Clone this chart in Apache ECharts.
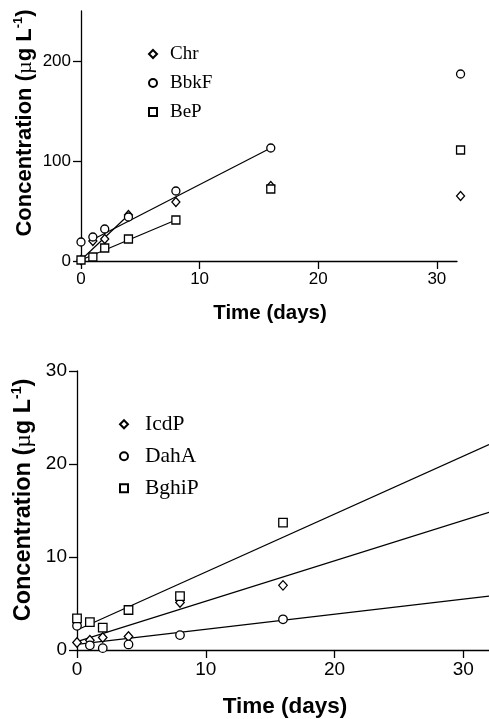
<!DOCTYPE html>
<html>
<head>
<meta charset="utf-8">
<script src="https://cdn.jsdelivr.net/npm/echarts@6/dist/echarts.min.js"></script>
<style>
  html, body { margin: 0; padding: 0; background: #fff; }
  #chart { width: 489px; height: 719px; }
</style>
</head>
<body>
<div id="chart"></div>
<script>
// upper panel: Chr, BbkF, BeP
const daysTop = [0, 1, 2, 4, 8, 16, 32];
const chrTop = [1, 20, 22, 46, 59, 75, 65];
const bbkfTop = [19, 24, 32, 44, 70, 113, 187];
const bepTop = [1, 4, 13, 22, 41, 72, 111];
// fitted lines, read as end points
const chrFit = [[0, 1], [4, 46]];
const bbkfFit = [[1, 21.5], [16, 113]];
const bepFit = [[0, 1], [8, 41]];

// lower panel: IcdP, DahA, BghiP
const daysBot = [0, 1, 2, 4, 8, 16];
const icdpBot = [0.8, 1.05, 1.35, 1.45, 5.1, 6.95];
const dahaBot = [2.6, 0.5, 0.2, 0.6, 1.6, 3.3];
const bghipBot = [3.4, 3.0, 2.4, 4.3, 5.8, 13.7];
const icdpFit = [[0, 0.9], [32, 14.8]];
const dahaFit = [[0, 0.6], [32, 5.8]];
const bghipFit = [[0, 2.15], [32, 22.1]];

const xTicksTop = [0, 10, 20, 30];
const yTicksTop = [0, 100, 200];
const xTicksBot = [0, 10, 20, 30];
const yTicksBot = [0, 10, 20, 30];

const sans = 'Liberation Sans, Arial, sans-serif';
const serif = 'Liberation Serif, Times New Roman, serif';

function pairs(xs, ys) {
    return xs.map((x, i) => [x, ys[i]]);
}

function scatter(name, sym, xs, ys, idx, size) {
    return {
        name: name,
        type: 'scatter',
        xAxisIndex: idx,
        yAxisIndex: idx,
        symbol: sym,
        symbolSize: sym === 'diamond' ? [size, size + 1] : size,
        clip: false,
        itemStyle: { color: '#fff', borderColor: '#000', borderWidth: 1.3, opacity: 1 },
        data: pairs(xs, ys),
        z: 3
    };
}

function fit(name, pts, idx) {
    return {
        name: name,
        type: 'line',
        xAxisIndex: idx,
        yAxisIndex: idx,
        showSymbol: false,
        lineStyle: { color: '#000', width: 1.2 },
        data: pts,
        z: 2
    };
}

function axisX(idx, max, ticks, fs) {
    return {
        type: 'value',
        gridIndex: idx,
        min: 0,
        max: max,
        splitLine: { show: false },
        axisLine: { lineStyle: { color: '#000', width: 1.3 } },
        axisTick: { length: 8, customValues: ticks, lineStyle: { color: '#000', width: 1.3 } },
        axisLabel: { customValues: ticks, margin: 10, color: '#000', fontFamily: sans, fontSize: fs }
    };
}

function axisY(idx, max, ticks, fs) {
    return {
        type: 'value',
        gridIndex: idx,
        min: 0,
        max: max,
        splitLine: { show: false },
        axisLine: { show: true, lineStyle: { color: '#000', width: 1.3 } },
        axisTick: { show: true, length: 8, customValues: ticks, lineStyle: { color: '#000', width: 1.3 } },
        axisLabel: { customValues: ticks, margin: 10, color: '#000', fontFamily: sans, fontSize: fs }
    };
}

function yTitle(cx, cy, fs) {
    const sup = Math.round(fs * 0.6);
    return {
        type: 'text',
        x: cx,
        y: cy,
        rotation: Math.PI / 2,
        style: {
            text: '{b|Concentration (}{m|\u00b5}{b|g L}{s|-1}{b|)}',
            align: 'center',
            verticalAlign: 'middle',
            fill: '#000',
            rich: {
                b: { fontFamily: sans, fontWeight: 'bold', fontSize: fs, fill: '#000' },
                m: { fontFamily: serif, fontSize: fs, fill: '#000' },
                s: { fontFamily: sans, fontWeight: 'bold', fontSize: sup, fill: '#000', padding: [0, 0, sup, 0] }
            }
        }
    };
}

function xTitle(cx, cy, fs) {
    return {
        type: 'text',
        x: cx,
        y: cy,
        style: {
            text: 'Time (days)',
            align: 'center',
            verticalAlign: 'middle',
            fill: '#000',
            font: 'bold ' + fs + 'px ' + sans
        }
    };
}

function legendBox(names, left, top, gap, pad, fs) {
    return {
        orient: 'vertical',
        left: left,
        top: top,
        data: names,
        itemWidth: 8,
        itemHeight: 8,
        itemGap: gap,
        selectedMode: false,
        textStyle: { fontFamily: serif, fontSize: fs, color: '#000', lineHeight: fs + 1, padding: [0, 0, 0, pad] }
    };
}

const chart = echarts.init(document.getElementById('chart'));

const option = {
    animation: false,
    backgroundColor: '#fff',
    grid: [
        { left: 81, top: 11, width: 376, height: 250 },
        { left: 77, top: 371, width: 417, height: 279 }
    ],
    xAxis: [axisX(0, 31.7, xTicksTop, 17), axisX(1, 32, xTicksBot, 19)],
    yAxis: [axisY(0, 250, yTicksTop, 17), axisY(1, 30, yTicksBot, 19)],
    legend: [
        legendBox(['Chr', 'BbkF', 'BeP'], 143, 39, 9, 8, 19),
        legendBox(['IcdP', 'DahA', 'BghiP'], 114, 408, 9.5, 12, 21.5)
    ],
    graphic: [
        yTitle(25, 123, 22),
        xTitle(270, 313, 20.5),
        yTitle(24, 500, 23.5),
        xTitle(285, 707, 22.5)
    ],
    series: [
        fit('Chr fit', chrFit, 0),
        fit('BbkF fit', bbkfFit, 0),
        fit('BeP fit', bepFit, 0),
        scatter('Chr', 'diamond', daysTop, chrTop, 0, 8),
        scatter('BbkF', 'circle', daysTop, bbkfTop, 0, 8),
        scatter('BeP', 'rect', daysTop, bepTop, 0, 8),
        fit('IcdP fit', icdpFit, 1),
        fit('DahA fit', dahaFit, 1),
        fit('BghiP fit', bghipFit, 1),
        scatter('IcdP', 'diamond', daysBot, icdpBot, 1, 8.5),
        scatter('DahA', 'circle', daysBot, dahaBot, 1, 8.5),
        scatter('BghiP', 'rect', daysBot, bghipBot, 1, 8.5)
    ]
};

chart.setOption(option);
</script>
</body>
</html>
